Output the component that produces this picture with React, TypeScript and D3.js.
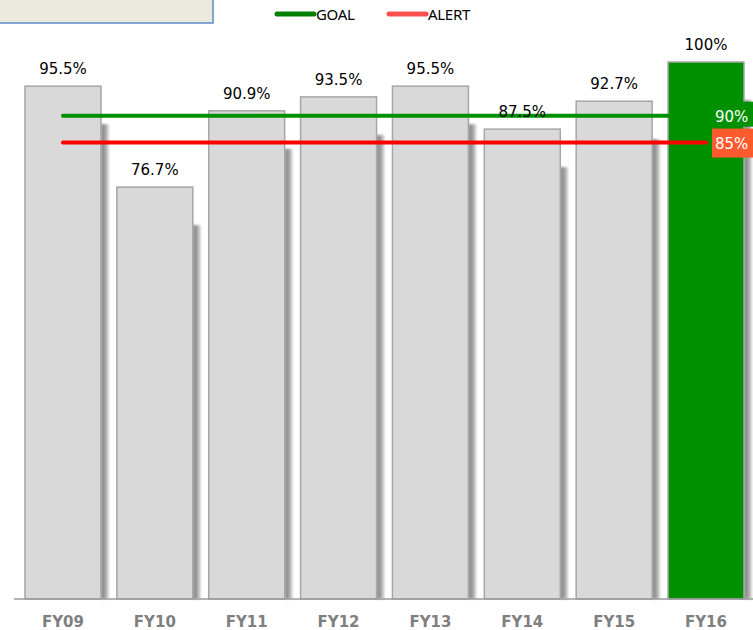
import React from "react";
import * as d3 from "d3";

const categories = ["FY09", "FY10", "FY11", "FY12", "FY13", "FY14", "FY15", "FY16"];
const values = [95.5, 76.7, 90.9, 93.5, 95.5, 87.5, 92.7, 100];
const valueLabels = ["95.5%", "76.7%", "90.9%", "93.5%", "95.5%", "87.5%", "92.7%", "100%"];
const goalValue = 90;
const alertValue = 85;
const goalLabel = "90%";
const alertLabel = "85%";

const W = 753;
const H = 630;

export default function App() {
  const x = d3
    .scaleBand<string>()
    .domain(categories)
    .range([17, 752])
    .paddingInner(0.173)
    .paddingOuter(0.087);
  const y = d3.scaleLinear().domain([0, 100]).range([599, 62]);
  const bw = x.bandwidth();
  const base = y(0);
  const lineX0 = (x(categories[0]) as number) + bw / 2;
  const lineX1 = (x(categories[categories.length - 1]) as number) + bw / 2;
  const refLine = d3.line<[number, number]>();

  const refs = [
    { v: goalValue, color: "#009000", label: goalLabel, box: "#009000" },
    { v: alertValue, color: "#ff0000", label: alertLabel, box: "#ff5a2e" },
  ];

  return (
    <div style={{ position: "absolute", left: 0, top: 0 }}>
      <svg width={W} height={H} style={{ display: "block" }}>
        <defs>
          <linearGradient id="barShadow" x1="0" x2="1" y1="0" y2="0">
            <stop offset="0" stopColor="#7a7a7a" />
            <stop offset="0.6" stopColor="#a8a8a8" />
            <stop offset="1" stopColor="#e0e0e0" />
          </linearGradient>
          <filter id="soft" x="-50%" y="-50%" width="200%" height="200%">
            <feGaussianBlur stdDeviation="1.2" />
          </filter>
          <filter id="softLine" x="-10%" y="-200%" width="120%" height="500%">
            <feGaussianBlur stdDeviation="2" />
          </filter>
        </defs>
        <rect width={W} height={H} fill="#ffffff" />

        {/* header panel */}
        <rect x={-2} y={-2} width={215} height={25} fill="#ece9df" stroke="#5f8ac7" strokeWidth={1.5} />

        {/* legend */}
        <g fontFamily="'Noto Sans', sans-serif" fontSize={15} fill="#000">
          <line x1={277} x2={314} y1={14} y2={14} stroke="#008000" strokeWidth={5} strokeLinecap="round" />
          <text x={316} y={20} letterSpacing={-0.3}>GOAL</text>
          <line x1={389} x2={426} y1={14} y2={14} stroke="#ff5050" strokeWidth={5} strokeLinecap="round" />
          <text x={428} y={20} letterSpacing={-0.3}>ALERT</text>
        </g>

        {/* bar shadows */}
        {categories.map((c, i) => {
          const top = y(values[i]) + 38;
          return (
            <rect
              key={"s" + c}
              x={(x(c) as number) + bw}
              y={top}
              width={8}
              height={base - top}
              fill="url(#barShadow)"
              filter="url(#soft)"
            />
          );
        })}

        {/* bars */}
        {categories.map((c, i) => (
          <rect
            key={c}
            x={x(c) as number}
            y={y(values[i])}
            width={bw}
            height={base - y(values[i])}
            fill={i === categories.length - 1 ? "#009000" : "#d9d9d9"}
            stroke="#a6a6a6"
            strokeWidth={1.5}
          />
        ))}

        {/* axis */}
        <line x1={14} x2={W} y1={base + 2} y2={base + 2} stroke="#c8c8c8" strokeWidth={2} filter="url(#soft)" />
        <line x1={14} x2={W} y1={base} y2={base} stroke="#9a9a9a" strokeWidth={1.5} />

        {/* reference line shadows */}
        {refs.map((r) => (
          <path
            key={"ls" + r.label}
            d={refLine([[lineX0, y(r.v) + 7], [lineX1, y(r.v) + 7]]) as string}
            stroke="#8c8c8c"
            strokeOpacity={0.75}
            strokeWidth={6}
            filter="url(#softLine)"
          />
        ))}

        {/* reference lines */}
        {refs.map((r) => (
          <path
            key={"l" + r.label}
            d={refLine([[lineX0, y(r.v)], [lineX1, y(r.v)]]) as string}
            stroke={r.color}
            strokeWidth={4}
            strokeLinecap="round"
          />
        ))}

        {/* reference labels */}
        {refs.map((r) => (
          <g key={"lb" + r.label}>
            <rect x={lineX1 + 6} y={y(r.v) - 14} width={50} height={r.v === alertValue ? 29 : 25} fill={r.box} />
            <text
              x={lineX1 + 9}
              y={y(r.v) + 6}
              fill="#ffffff"
              fontFamily="'DejaVu Sans', Verdana, sans-serif"
              fontSize={15}
            >
              {r.label}
            </text>
          </g>
        ))}

        {/* value labels */}
        {categories.map((c, i) => (
          <text
            key={"v" + c}
            x={(x(c) as number) + bw / 2}
            y={y(values[i]) - 12}
            textAnchor="middle"
            fontFamily="'DejaVu Sans', Verdana, sans-serif"
            fontSize={15}
            fill="#000"
          >
            {valueLabels[i]}
          </text>
        ))}

        {/* category labels */}
        {categories.map((c) => (
          <text
            key={"c" + c}
            x={(x(c) as number) + bw / 2}
            y={627}
            textAnchor="middle"
            fontFamily="'DejaVu Sans', Verdana, sans-serif"
            fontSize={15}
            fontWeight="bold"
            fill="#7f7f7f"
          >
            {c}
          </text>
        ))}
      </svg>
    </div>
  );
}
